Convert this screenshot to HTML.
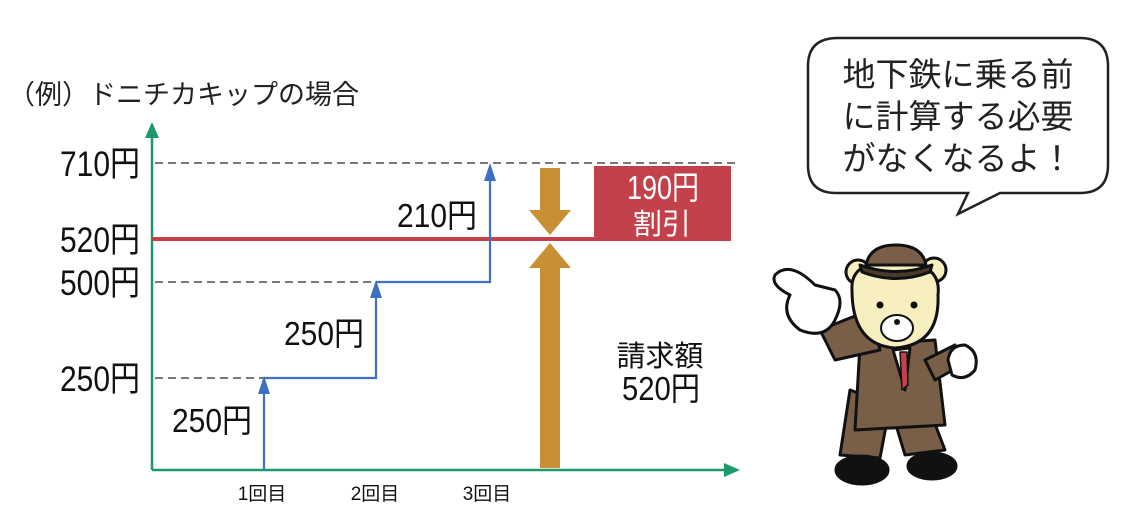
<!DOCTYPE html>
<html><head><meta charset="utf-8"><style>
html,body{margin:0;padding:0;background:#fff;width:1136px;height:531px;overflow:hidden}
svg{display:block}
text{font-family:"Liberation Sans","Noto Sans CJK JP",sans-serif}
</style></head><body>
<svg width="1136" height="531" viewBox="0 0 1136 531">
<text x="8" y="104" font-size="27" fill="#222">（例）ドニチカキップの場合</text>
<!-- axes -->
<line x1="152" y1="135" x2="152" y2="470" stroke="#1e9a6a" stroke-width="2.5"/>
<polygon points="152,122 145,138 159,138" fill="#1e9a6a"/>
<line x1="152" y1="470" x2="726" y2="470" stroke="#1e9a6a" stroke-width="2.5"/>
<polygon points="740,470 724,463 724,477" fill="#1e9a6a"/>
<!-- dashed -->
<g stroke="#666" stroke-width="1.8" stroke-dasharray="8,5">
<line x1="155" y1="163" x2="735" y2="163"/>
<line x1="155" y1="282" x2="376" y2="282"/>
<line x1="155" y1="378" x2="264" y2="378"/>
</g>
<!-- red -->
<line x1="152" y1="239" x2="596" y2="239" stroke="#c2414a" stroke-width="4"/>
<rect x="594" y="166" width="137" height="75" fill="#c2414a"/>
<text x="627" y="199" font-size="33" fill="#fff" textLength="72" lengthAdjust="spacingAndGlyphs">190円</text>
<text x="662" y="234" font-size="29" fill="#fff" text-anchor="middle">割引</text>
<!-- blue -->
<g stroke="#3d6fc2" stroke-width="2.2" fill="none">
<polyline points="264,470 264,392"/>
<polyline points="264,378 376,378 376,296"/>
<polyline points="376,282 490,282 490,178"/>
</g>
<g fill="#3d6fc2">
<polygon points="264,376 258,394 270,394"/>
<polygon points="376,280 370,298 382,298"/>
<polygon points="490,163 484,181 496,181"/>
</g>
<!-- gold -->
<g fill="#c98f35">
<rect x="540" y="168" width="20" height="44"/>
<polygon points="529,210 571,210 550,235"/>
<polygon points="550,243 571,268 529,268"/>
<rect x="540" y="266" width="20" height="202"/>
</g>
<!-- labels -->
<g font-size="35" fill="#111">
<text x="60" y="176" textLength="80" lengthAdjust="spacingAndGlyphs">710円</text>
<text x="60" y="252" textLength="80" lengthAdjust="spacingAndGlyphs">520円</text>
<text x="60" y="295" textLength="80" lengthAdjust="spacingAndGlyphs">500円</text>
<text x="60" y="391" textLength="80" lengthAdjust="spacingAndGlyphs">250円</text>
</g>
<g font-size="33" fill="#111">
<text x="172" y="432" textLength="80" lengthAdjust="spacingAndGlyphs">250円</text>
<text x="284" y="345" textLength="80" lengthAdjust="spacingAndGlyphs">250円</text>
<text x="397" y="227" textLength="80" lengthAdjust="spacingAndGlyphs">210円</text>
<text x="660" y="366" text-anchor="middle" font-size="29">請求額</text>
<text x="622" y="400" textLength="78" lengthAdjust="spacingAndGlyphs">520円</text>
</g>
<g font-size="19" fill="#111" text-anchor="middle">
<text x="262" y="500">1回目</text>
<text x="375" y="500">2回目</text>
<text x="487" y="500">3回目</text>
</g>
<!-- bubble -->
<path d="M838,38 H1080 Q1108,38 1108,66 V165 Q1108,193 1080,193 H1000 L958,214 L968,193 H836 Q808,193 808,165 V66 Q808,38 838,38 Z" fill="#fff" stroke="#222" stroke-width="2.5"/>
<g font-size="33" fill="#222" text-anchor="middle">
<text x="958" y="86">地下鉄に乗る前</text>
<text x="958" y="128">に計算する必要</text>
<text x="958" y="170">がなくなるよ！</text>
</g>
<!-- bear -->
<g stroke="#111" stroke-width="3" stroke-linejoin="round">
<path d="M850,390 L840,455 L880,458 L890,405 Z" fill="#7a5f48"/>
<path d="M890,405 L905,455 L945,450 L920,385 Z" fill="#7a5f48"/>
<ellipse cx="862" cy="470" rx="26" ry="14" fill="#111"/>
<ellipse cx="932" cy="466" rx="24" ry="13" fill="#111"/>
<path d="M860,345 L935,340 L945,425 L855,430 Z" fill="#7a5f48"/>
<path d="M820,330 L870,310 L880,350 L835,360 Z" fill="#7a5f48"/>
<path d="M925,360 L955,345 L962,365 L935,380 Z" fill="#7a5f48"/>
<path d="M893,350 L910,348 L905,390 Z" fill="#fff"/>
<path d="M900,352 L907,352 L908,385 L902,390 Z" fill="#c2414a" stroke-width="1.5"/>
<path d="M775,275 Q790,260 815,285 L835,290 Q845,300 835,320 Q825,340 800,330 Q780,315 790,295 Q770,285 775,275 Z" fill="#fff"/>
<path d="M948,360 Q950,345 965,345 Q980,352 975,370 Q965,382 952,375 Z" fill="#fff"/>
<circle cx="858" cy="272" r="12" fill="#f7efc0"/>
<circle cx="934" cy="270" r="12" fill="#f7efc0"/>
<path d="M852,290 Q850,260 895,262 Q942,262 938,295 Q940,345 895,348 Q852,345 852,290 Z" fill="#f7efc0"/>
<ellipse cx="897" cy="328" rx="16" ry="13" fill="#fff" stroke-width="2"/>
<path d="M866,265 Q870,245 896,245 Q922,245 926,265 Z" fill="#7a5f48"/>
<path d="M860,265 Q896,278 932,265 L930,272 Q896,285 862,272 Z" fill="#4a3a2c"/>
</g>
<circle cx="880" cy="305" r="3.5" fill="#111"/>
<circle cx="914" cy="305" r="3.5" fill="#111"/>
<circle cx="897" cy="322" r="3" fill="#111"/>
</svg>
</body></html>
